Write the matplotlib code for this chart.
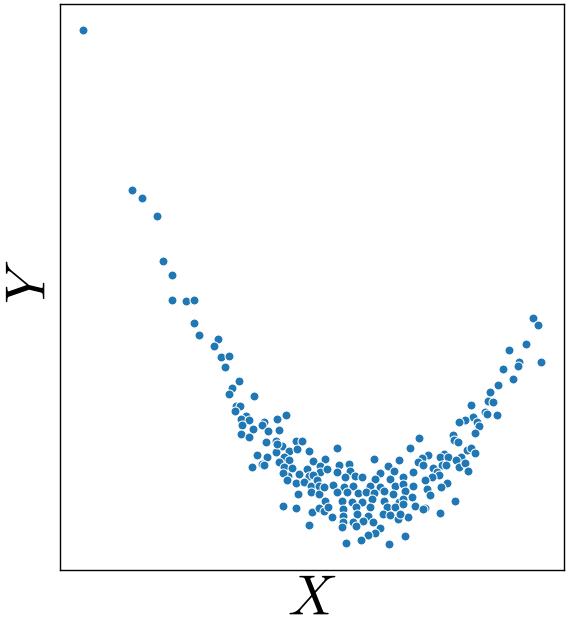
import matplotlib
matplotlib.use("Agg")
import matplotlib.pyplot as plt

# values (arbitrary units, no ticks on the chart)
x_vals = [23,
          72.3, 82.3, 97.3, 103.3, 112.3, 112.3, 126.3, 134.3, 134.3, 139.3,
          158.3, 154.3, 161.3, 168.7, 165.3, 179.3, 171.7, 169.3, 194.3,
          176, 180.3, 175, 186, 181.3, 189.3, 225.7, 217.3, 203.7, 202.3,
          208.3, 219.3, 193.3, 182.3, 181, 188.7, 206.3, 215.7, 235.7, 242,
          222, 216, 229.3, 237.3, 249.3, 196.7, 206.7, 224, 228.7, 219.3,
          202.3, 203.7, 192.3, 253.3, 265, 224.3, 232.3, 246.7, 260, 238.7,
          249.3, 228.3, 260, 266.7, 217.3,
          223.3, 253.3, 226.7, 236, 244.3, 250.7, 257.3, 259.3, 251.3, 238.3,
          259.3, 265, 223.3, 236.3, 252.3, 259.3, 249.3, 264.3,
          277.3, 314, 339, 289.3, 279.3, 328.3, 334, 320, 276.7, 290,
          295, 285, 301.7, 315, 330, 273.3, 264, 284.3, 293.3, 310,
          320, 335, 276.7, 286.7, 298.3, 306, 314, 324, 333.3, 281.7,
          291.7, 301.7, 311.7, 324, 339.3, 268.3, 282.7, 296, 310, 326.7,
          335, 271.7, 283.3, 296.7, 308.3, 323.3, 330, 283.3, 293.3, 303.3,
          312.7, 338.3, 281.7, 296, 320, 315, 307.7, 301, 286, 329.3,
          345, 348.3,
          411, 428.3, 432.7, 425, 427.3, 437.3, 412.7, 405, 399.3, 417.3,
          419.3, 415.3, 393.3, 394, 398.3, 359.3, 350, 406.7, 410.7, 415.3,
          384, 368.3, 361.7, 358.3, 380, 388.3, 400.7, 396, 363.3, 372.7,
          381.7, 386, 399.3, 405, 408.3, 353.3, 377.3, 379.3, 371.7, 365,
          386.7, 380.7, 367.3, 370, 353.3, 343.3, 343.3, 345, 351.7, 342.7,
          343.3, 355, 365, 362.7, 395.3, 380, 340,
          473.3, 478.3, 466, 449.3, 481.3, 459.3, 458, 443.3, 453.3, 438.3,
          430.3]
y_vals = [540,
          379.7, 371.7, 353.7, 308.7, 294.7, 269.7, 268.7, 269.7, 246.7, 234,
          230.7, 223.7, 212.7, 213.7, 202.7, 188.7, 181, 175.7, 173,
          162.7, 163, 157.7, 153.3, 150, 148.7, 154, 150, 146.7, 144.3,
          138.3, 139, 139.7, 144.3, 135.3, 132, 127, 127.7, 128, 128,
          122.7, 117.3, 118, 119.7, 117.7, 114.3, 112, 112, 109, 106.7,
          105, 103.7, 101.7, 108, 110, 101.7, 100.7, 100, 103.3, 95.3,
          92.7, 93.3, 96.7, 100, 125,
          96, 94, 88.7, 86, 86.7, 82.7, 89.3, 82.7, 76.7, 75,
          74.7, 68.3, 63, 60.7, 56.7, 61.3, 43.7, 57.7,
          121, 110, 109.3, 105, 104.3, 103.3, 98.3, 96, 96.7, 97.7,
          93.3, 91.7, 91.7, 90, 90, 84, 81.7, 81.7, 83.3, 83.3,
          81.7, 83.3, 76.7, 76.7, 75.7, 76.7, 75.7, 77.7, 75, 68.3,
          66.7, 67.3, 70, 68.3, 67.3, 61.7, 60, 61.7, 61.7, 61.7,
          61.7, 51.7, 52.7, 55, 53.3, 55, 54, 47.3, 46.7, 48.3,
          47.3, 50, 41.7, 42.7, 40.7, 35.7, 34, 29.3, 25.7, 24.7,
          32.7, 51.7,
          163.7, 168.3, 166.7, 157.3, 155, 154, 151.7, 149, 146.7, 147.3,
          143.3, 135.7, 134, 129.3, 126.7, 131, 120.7, 119.3, 120.7, 116,
          115, 114, 110.7, 106.7, 111.7, 111.7, 111.7, 109.3, 104, 100.7,
          104, 104, 102.3, 106, 97.7, 96.7, 97.3, 94, 91.7, 89,
          85.7, 81.7, 80, 74.3, 82.7, 91.7, 85, 78.3, 71.7, 70,
          65, 63.3, 61, 60, 67.7, 55.7, 55,
          251.7, 244.3, 225, 219.7, 207.7, 207, 203.3, 200.7, 190.7, 184.7,
          177.7]

plt.rcParams['mathtext.fontset'] = 'cm'

fig = plt.figure(figsize=(5.68, 6.3), dpi=100)
ax = fig.add_axes([0.1056, 0.0952, 0.8874, 0.8985])
ax.scatter(x_vals, y_vals, s=42, c='#1f77b4', edgecolors='white', linewidths=0.75)
ax.set_xticks([])
ax.set_yticks([])
ax.set_xlabel('$X$', fontsize=40, labelpad=2)
ax.set_ylabel('$Y$', fontsize=40)
ax.yaxis.label.set_va('center')
ax.yaxis.set_label_coords(-0.059, 0.509)
for sp in ax.spines.values():
    sp.set_linewidth(1.0)
    sp.set_color('black')

plt.savefig('out.png', dpi=100)
